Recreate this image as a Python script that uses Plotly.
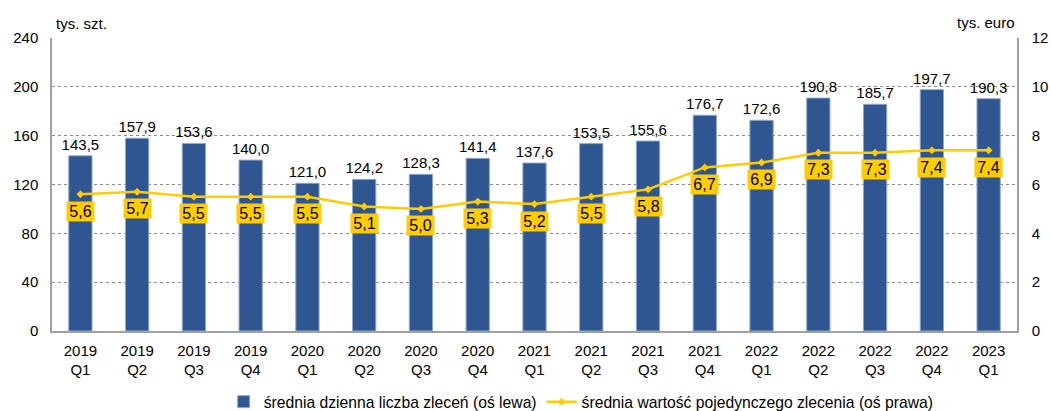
import plotly.graph_objects as go

categories = ["2019<br>Q1", "2019<br>Q2", "2019<br>Q3", "2019<br>Q4",
              "2020<br>Q1", "2020<br>Q2", "2020<br>Q3", "2020<br>Q4",
              "2021<br>Q1", "2021<br>Q2", "2021<br>Q3", "2021<br>Q4",
              "2022<br>Q1", "2022<br>Q2", "2022<br>Q3", "2022<br>Q4",
              "2023<br>Q1"]
daily_orders = [143.5, 157.9, 153.6, 140.0, 121.0, 124.2, 128.3, 141.4, 137.6,
                153.5, 155.6, 176.7, 172.6, 190.8, 185.7, 197.7, 190.3]
avg_value = [5.6, 5.7, 5.5, 5.5, 5.5, 5.1, 5.0, 5.3, 5.2, 5.5, 5.8, 6.7,
             6.9, 7.3, 7.3, 7.4, 7.4]
left_ticks = [0, 40, 80, 120, 160, 200, 240]
right_ticks = [0, 2, 4, 6, 8, 10, 12]

BAR = "#2F5690"
LINE = "#FFCC00"
FONT = "Liberation Sans, Arial, sans-serif"

def pl(v):
    return f"{v:.1f}".replace(".", ",")

fig = go.Figure()
fig.add_trace(go.Bar(
    x=categories, y=daily_orders, name="średnia dzienna liczba zleceń (oś lewa)",
    marker=dict(color=BAR, line=dict(color="#8FA8CC", width=1)),
    text=[pl(v) for v in daily_orders], textposition="outside",
    constraintext="none",
    textfont=dict(size=15, color="#000000", family=FONT),
    cliponaxis=False, yaxis="y",
))
fig.add_trace(go.Scatter(
    x=categories, y=avg_value, name="średnia wartość pojedynczego zlecenia (oś prawa)",
    mode="lines+markers", line=dict(color=LINE, width=2.5),
    marker=dict(symbol="diamond", size=6, color=LINE),
    yaxis="y2",
))

annotations = []
for c, v in zip(categories, avg_value):
    annotations.append(dict(
        x=c, y=v, xref="x", yref="y2", text=pl(v), showarrow=False,
        yshift=-17, bgcolor=LINE, borderpad=0, width=27, height=19,
        font=dict(size=16, color="#000000", family=FONT),
    ))
annotations.append(dict(x=0, xref="paper", y=1, yref="paper", yshift=15,
                        xshift=2, xanchor="left", yanchor="middle", text="tys. szt.",
                        showarrow=False, font=dict(size=15, color="#000", family=FONT)))
annotations.append(dict(x=1, xref="paper", y=1, yref="paper", yshift=16,
                        xanchor="right", yanchor="middle", text="tys. euro",
                        showarrow=False, font=dict(size=15, color="#000", family=FONT)))

fig.update_layout(
    template="none",
    width=1050, height=411,
    margin=dict(l=52, r=33, t=38, b=80, autoexpand=False),
    paper_bgcolor="white", plot_bgcolor="white",
    font=dict(family=FONT, size=15, color="#000000"),
    bargap=0.59,
    showlegend=True,
    hovermode=False,
    legend=dict(orientation="h", xref="container", yref="container",
                x=0.213, xanchor="left", y=0.022, yanchor="middle",
                font=dict(size=15.7), itemwidth=30, tracegroupgap=0,
                bgcolor="rgba(0,0,0,0)"),
    xaxis=dict(range=[-0.5, len(categories) - 0.5], showline=True, linecolor="#A0A0A0",
               linewidth=1.5, ticks="", tickfont=dict(size=15), mirror=False,
               showgrid=False, automargin=False, ticklabelstandoff=5),
    yaxis=dict(range=[0, 240], tickvals=left_ticks, showline=True, linecolor="#A0A0A0",
               linewidth=1.5, showgrid=True, gridcolor="#8C8C8C", griddash="dot",
               gridwidth=1, tickfont=dict(size=15), ticks="", zeroline=False,
               automargin=False, ticklabelstandoff=9),
    yaxis2=dict(range=[0, 12], tickvals=right_ticks, overlaying="y", side="right",
                showline=True, linecolor="#A0A0A0", linewidth=1.5, showgrid=False,
                tickfont=dict(size=15), ticks="", zeroline=False, automargin=False,
                ticklabelstandoff=10),
    annotations=annotations,
)

fig.write_html("out.html", config={"displayModeBar": False},
               post_script="document.body.style.margin='0';")
